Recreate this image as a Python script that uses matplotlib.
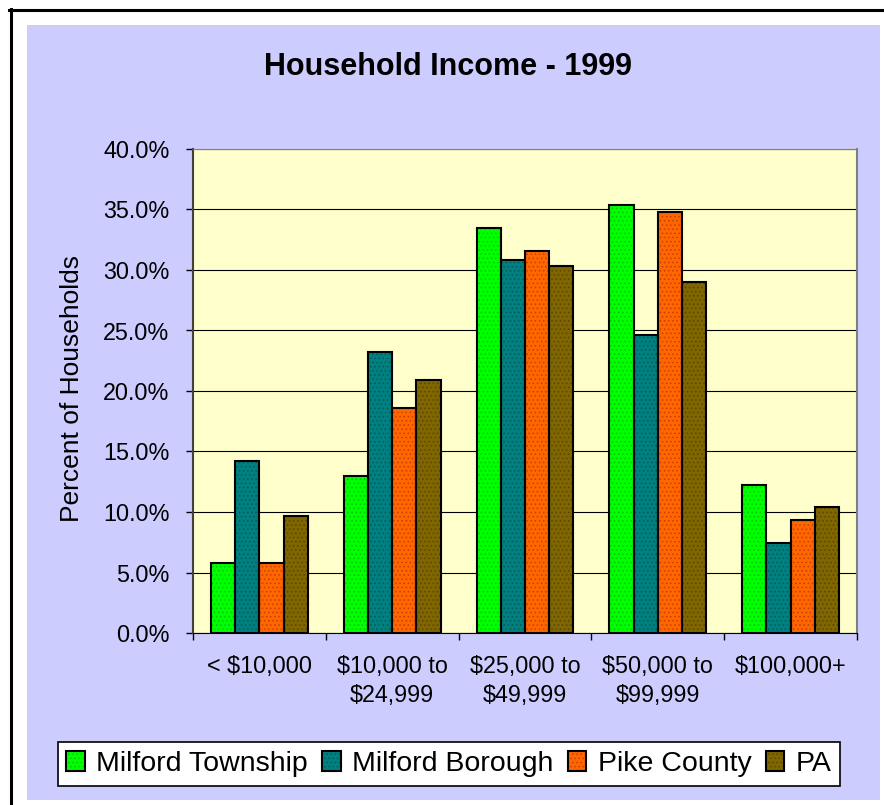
import numpy as np
import matplotlib
matplotlib.use("Agg")
import matplotlib.pyplot as plt
from matplotlib.patches import Rectangle, Patch
from matplotlib.lines import Line2D
from matplotlib.legend_handler import HandlerTuple

plt.rcParams["font.family"] = ["Liberation Sans", "DejaVu Sans"]
plt.rcParams["hatch.linewidth"] = 0.6

categories = ["< $10,000", "$10,000 to\n$24,999", "$25,000 to\n$49,999",
              "$50,000 to\n$99,999", "$100,000+"]
series_names = ["Milford Township", "Milford Borough", "Pike County", "PA"]
township = [5.8, 13.0, 33.5, 35.4, 12.2]
borough = [14.2, 23.2, 30.8, 24.6, 7.4]
pike = [5.8, 18.6, 31.6, 34.8, 9.3]
pa = [9.7, 20.9, 30.3, 29.0, 10.4]
yticks = [0, 5, 10, 15, 20, 25, 30, 35, 40]

FACES = ["#00FF00", "#008080", "#FF6600", "#806600"]
DOTS = ["#00C800", "#005A5A", "#C84000", "#5A4600"]
LAVENDER = "#CCCCFF"
PLOTBG = "#FFFFCC"

W, H = 884, 805
fig = plt.figure(figsize=(W / 100, H / 100), dpi=100, facecolor="white")

# frame: lavender panel plus black border on top/left
fig.patches.append(Rectangle((27 / W, 1 - 800 / H), 853 / W, 775 / H,
                             transform=fig.transFigure, facecolor=LAVENDER,
                             edgecolor="none", zorder=-10))
fig.add_artist(Line2D([9 / W, 1], [1 - 10.5 / H] * 2, color="black", lw=2.2))
fig.add_artist(Line2D([10.5 / W] * 2, [0, 1 - 9 / H], color="black", lw=2.2))

ax = fig.add_axes([193 / W, 1 - 633 / H, 664 / W, 484 / H])
ax.set_facecolor(PLOTBG)

data = [township, borough, pike, pa]
x = np.arange(len(categories))
bw = 0.182
for i, vals in enumerate(data):
    pos = x + (i - 1.5) * bw
    ax.bar(pos, vals, bw, color=FACES[i], hatch="....", edgecolor=DOTS[i],
           linewidth=0, zorder=3)
    ax.bar(pos, vals, bw, fill=False, edgecolor="black", linewidth=1.5, zorder=4)

ax.set_xlim(-0.5, len(categories) - 0.5)
ax.set_ylim(0, 40)
ax.set_yticks(yticks)
ax.set_yticklabels([f"{v:.1f}%" for v in yticks])
ax.yaxis.grid(True, color="black", linewidth=0.8)
ax.set_axisbelow(True)

ax.set_xticks(x)
ax.set_xticklabels(categories, linespacing=1.3)
ax.set_xticks(np.arange(-0.5, len(categories)), minor=True)
ax.tick_params(axis="x", which="major", length=0, pad=16, labelsize=16.8)
ax.tick_params(axis="x", which="minor", length=5, width=1, color="black")
ax.tick_params(axis="y", length=5, width=1, color="black", pad=12, labelsize=16.8)

ax.spines["left"].set_color("#404040")
ax.spines["left"].set_linewidth(1.5)
ax.spines["top"].set_color("#808080")
ax.spines["right"].set_color("#808080")
ax.spines["right"].set_linewidth(1.5)
ax.spines["bottom"].set_color("black")

fig.text(448 / W, 1 - 67 / H, "Household Income - 1999", ha="center",
         va="center", fontsize=22, fontweight="bold")
fig.text(72 / W, 1 - 388 / H, "Percent of Households", rotation=90,
         ha="center", va="center", fontsize=19)

handles = [(Patch(facecolor=FACES[i], hatch="....", edgecolor=DOTS[i], lw=0),
            Patch(fill=False, edgecolor="black", lw=1.5)) for i in range(4)]
leg = fig.legend(handles, series_names, loc="center",
                 bbox_to_anchor=(449 / W, 1 - 764 / H), ncol=4,
                 handler_map={tuple: HandlerTuple(ndivide=1)},
                 fontsize=20.5, frameon=True, fancybox=False, framealpha=1,
                 facecolor="white", edgecolor="black", handlelength=0.65,
                 handleheight=0.65, handletextpad=0.4, columnspacing=0.5,
                 borderpad=0.3, borderaxespad=0)
leg.get_frame().set_linewidth(1.2)

fig.savefig("out.png", dpi=100, facecolor="white")
